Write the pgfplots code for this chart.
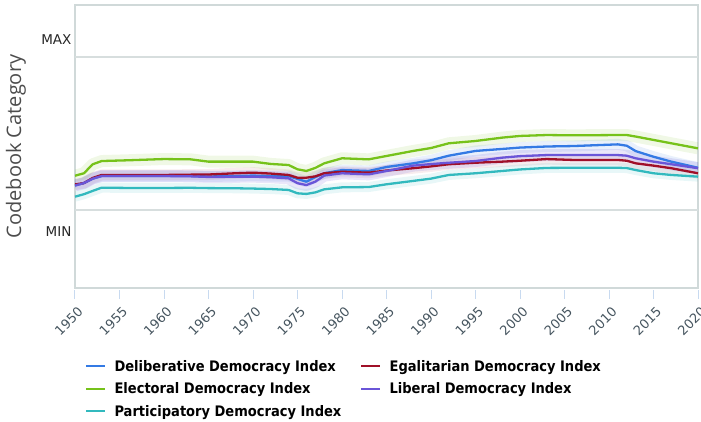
\documentclass[border=0pt]{standalone}
\usepackage{pgfplots}
\pgfplotsset{compat=1.18}
\usepackage{pgfplotstable}
\usepackage{fontspec}
\setmainfont{DejaVu Sans}
\newfontfamily\labelfont{Open Sans}
\newfontfamily\legendfont{DejaVuSansCondensed-Bold.ttf}

\definecolor{cdelib}{RGB}{52,122,228}
\definecolor{cegal}{RGB}{160,16,40}
\definecolor{celect}{RGB}{118,194,26}
\definecolor{clib}{RGB}{106,85,216}
\definecolor{cpart}{RGB}{50,185,190}
\definecolor{bordergray}{RGB}{208,217,217}
\definecolor{gridgray}{RGB}{215,222,222}
\definecolor{tickblue}{RGB}{200,218,240}
\definecolor{ticktext}{RGB}{70,85,95}

% year, Deliberative, Egalitarian, Electoral, Liberal, Participatory
\pgfplotstableread{
year D     Eg    E     L     P
1950 0.160 0.167 0.224 0.160 0.087
1951 0.176 0.176 0.240 0.176 0.103
1952 0.205 0.210 0.299 0.205 0.125
1953 0.222 0.229 0.320 0.222 0.146
1956 0.222 0.229 0.325 0.222 0.144
1960 0.222 0.229 0.333 0.222 0.144
1963 0.222 0.231 0.331 0.220 0.145
1965 0.219 0.232 0.316 0.216 0.143
1968 0.222 0.240 0.316 0.217 0.142
1970 0.225 0.244 0.316 0.218 0.140
1972 0.222 0.238 0.301 0.214 0.137
1974 0.222 0.229 0.294 0.207 0.131
1975 0.203 0.211 0.266 0.175 0.109
1976 0.185 0.211 0.255 0.163 0.105
1977 0.215 0.220 0.275 0.185 0.115
1978 0.240 0.240 0.305 0.225 0.135
1980 0.261 0.250 0.338 0.240 0.148
1983 0.255 0.244 0.331 0.233 0.150
1985 0.281 0.258 0.353 0.255 0.168
1988 0.305 0.273 0.386 0.290 0.190
1990 0.325 0.285 0.405 0.300 0.205
1992 0.355 0.299 0.436 0.309 0.229
1995 0.386 0.309 0.451 0.320 0.240
1998 0.399 0.316 0.473 0.342 0.255
2000 0.408 0.322 0.484 0.352 0.265
2003 0.415 0.333 0.490 0.359 0.275
2006 0.418 0.327 0.488 0.359 0.276
2011 0.429 0.327 0.490 0.359 0.276
2012 0.420 0.322 0.490 0.355 0.274
2013 0.385 0.305 0.480 0.338 0.261
2015 0.348 0.290 0.458 0.316 0.240
2017 0.316 0.273 0.436 0.299 0.229
2020 0.276 0.240 0.403 0.273 0.218
}\vdem

\begin{document}
\begin{tikzpicture}
\begin{axis}[
  scale only axis,
  width=623pt, height=283pt,
  xmin=1950, xmax=2020,
  ymin=-0.510, ymax=1.340,
  axis line style={draw=bordergray, line width=2.5pt},
  tick align=inside,
  major tick length=9pt,
  xtick={1950,1955,...,2020},
  xtick pos=lower,
  xtick style={draw=tickblue, line width=1pt, yshift=-11pt},
  xticklabel style={font=\fontsize{13}{15}\selectfont, text=ticktext,
    yshift=-13pt, xshift=2pt, rotate=45, anchor=north east},
  /pgf/number format/1000 sep={},
  /pgf/number format/assume math mode=true,
  ytick={-0.144,1.111},
  yticklabels={MIN,MAX},
  ytick style={draw=none},
  yticklabel style={font=\fontsize{13.5}{16}\selectfont, text=black!85},
  extra y ticks={0,1},
  extra y tick labels={},
  extra y tick style={grid=major, major grid style={draw=gridgray, line width=2pt}, tick style={draw=none}},
  ylabel={Codebook Category},
  ylabel style={at={(axis description cs:-0.0947,0.5)}, anchor=center,
    font=\labelfont\fontsize{20}{24}\selectfont, text=black!70},
  legend columns=2,
  legend cell align=left,
  legend style={at={(axis description cs:0.0163,-0.247)}, anchor=north west,
    draw=none, fill=none, inner sep=0pt,
    font=\legendfont\fontsize{14.5}{17}\selectfont,
    /tikz/every odd column/.append style={column sep=6pt},
    /tikz/every even column/.append style={column sep=17pt},
    row sep=6pt},
  legend image code/.code={\draw[#1, line width=2.2pt] (0pt,0pt) -- (19pt,0pt);},
  every axis plot/.append style={line join=round},
]
\coordinate (bl) at (rel axis cs:0,0);
\draw[tickblue, line width=1pt] ([yshift=-2.5pt]rel axis cs:0,0) -- ([yshift=-2.5pt]rel axis cs:1,0);

% uncertainty bands
\addplot[forget plot, draw=cdelib, line width=11pt, opacity=0.11] table[x=year, y=D] {\vdem};
\addplot[forget plot, draw=cegal, line width=11pt, opacity=0.08] table[x=year, y=Eg] {\vdem};
\addplot[forget plot, draw=celect, line width=12pt, opacity=0.11] table[x=year, y=E] {\vdem};
\addplot[forget plot, draw=clib, line width=12pt, opacity=0.15] table[x=year, y=L] {\vdem};
\addplot[forget plot, draw=cpart, line width=10pt, opacity=0.11] table[x=year, y=P] {\vdem};

% index lines
\addplot[cdelib, line width=2.3pt] table[x=year, y=D] {\vdem};
\addlegendentry{Deliberative Democracy Index}
\addplot[cegal, line width=2.3pt] table[x=year, y=Eg] {\vdem};
\addlegendentry{Egalitarian Democracy Index}
\addplot[celect, line width=2.3pt] table[x=year, y=E] {\vdem};
\addlegendentry{Electoral Democracy Index}
\addplot[clib, line width=2.3pt] table[x=year, y=L] {\vdem};
\addlegendentry{Liberal Democracy Index}
\addplot[cpart, line width=2.3pt] table[x=year, y=P] {\vdem};
\addlegendentry{Participatory Democracy Index}
\end{axis}
\pgfresetboundingbox
\path (bl) ++(-75pt,-133pt) rectangle ++(701pt,421pt);
\end{tikzpicture}
\end{document}
